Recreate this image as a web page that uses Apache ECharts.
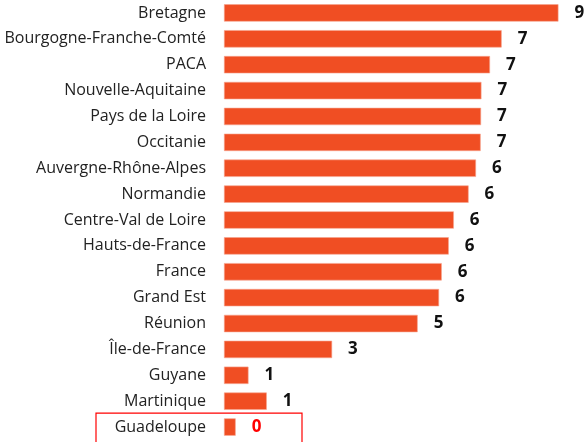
<!DOCTYPE html>
<html>
<head>
<meta charset="utf-8">
<script src="https://cdn.jsdelivr.net/npm/echarts@6/dist/echarts.min.js"></script>
<style>
html,body{margin:0;padding:0;background:#fff;}
#chart{width:588px;height:442px;}
</style>
</head>
<body>
<div id="chart"></div>
<script>
const categories = ["Bretagne","Bourgogne-Franche-Comté","PACA","Nouvelle-Aquitaine","Pays de la Loire","Occitanie","Auvergne-Rhône-Alpes","Normandie","Centre-Val de Loire","Hauts-de-France","France","Grand Est","Réunion","Île-de-France","Guyane","Martinique","Guadeloupe"];
const values = [8.6, 7.14, 6.84, 6.62, 6.61, 6.6, 6.48, 6.29, 5.91, 5.78, 5.6, 5.53, 4.98, 2.78, 0.63, 1.1, 0.3];
const highlighted = "Guadeloupe";

const chart = echarts.init(document.getElementById('chart'));
const option = {
  animation: false,
  grid: { left: 224, top: -1, width: 350, height: 441, containLabel: false },
  xAxis: { type: 'value', min: 0, max: 9, show: false },
  yAxis: {
    type: 'category', data: categories, inverse: true,
    axisLine: { show: false }, axisTick: { show: false }, splitLine: { show: false },
    axisLabel: { margin: 18, fontFamily: 'Open Sans', fontSize: 16, color: '#222' }
  },
  series: [{
    type: 'bar',
    data: values.map((v, i) => ({
      value: v,
      label: categories[i] === highlighted ? { color: '#ff0000' } : undefined
    })),
    barCategoryGap: '33%',
    itemStyle: { color: '#F04E23', borderColor: '#f6a58e', borderWidth: 0.6 },
    label: {
      show: true, position: 'right', distance: 16,
      fontFamily: 'Open Sans', fontWeight: 'bold', fontSize: 17, color: '#111',
      formatter: p => String(Math.round(p.value))
    }
  }]
};
chart.setOption(option);
const yc = chart.convertToPixel({ yAxisIndex: 0 }, highlighted);
chart.setOption({
  graphic: [{
    type: 'rect', shape: { x: 96, y: yc - 14, width: 206, height: 40 },
    style: { fill: 'none', stroke: '#ff0000', lineWidth: 1.2 }, z: 10
  }]
});
</script>
</body>
</html>
